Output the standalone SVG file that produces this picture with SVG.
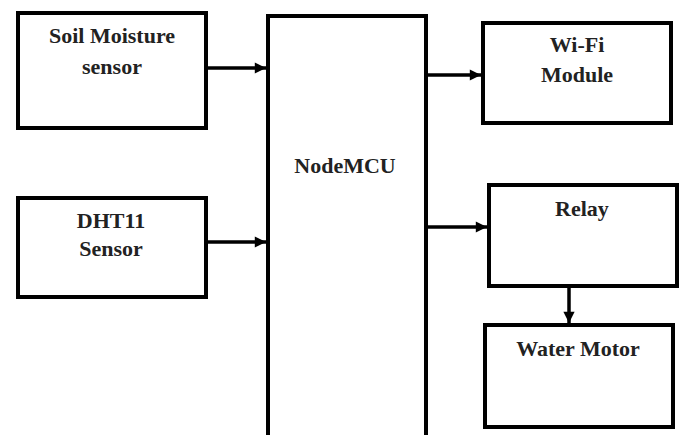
<svg xmlns="http://www.w3.org/2000/svg" width="685" height="435" viewBox="0 0 685 435">
<style>
.box{fill:#fff;stroke:#000;stroke-width:4}
.lbl{font-family:'Liberation Serif','DejaVu Serif',serif;font-weight:700;font-size:22px;fill:#222;text-anchor:middle}
.conn{stroke:#000;stroke-width:3.5;fill:none}
</style>
<defs>
<marker id="ah" viewBox="0 0 10 10" refX="10" refY="5" markerWidth="3.4" markerHeight="3.2" orient="auto" markerUnits="strokeWidth">
<path d="M0,0 L10,5 L0,10 z" fill="#000"/>
</marker>
</defs>
<rect width="685" height="435" fill="#fff"/>
<g id="soil">
<rect class="box" x="18" y="13" width="188" height="115"/>
<text class="lbl" x="112" y="43">Soil Moisture</text>
<text class="lbl" x="112" y="74">sensor</text>
</g>
<g id="dht11">
<rect class="box" x="18" y="198" width="188" height="99"/>
<text class="lbl" x="111" y="228">DHT11</text>
<text class="lbl" x="111" y="256">Sensor</text>
</g>
<g id="nodemcu">
<rect class="box" x="268" y="16" width="158" height="430"/>
<text class="lbl" x="345" y="173">NodeMCU</text>
</g>
<g id="wifi">
<rect class="box" x="483" y="23" width="188" height="100"/>
<text class="lbl" x="577" y="52">Wi-Fi</text>
<text class="lbl" x="577" y="82">Module</text>
</g>
<g id="relay">
<rect class="box" x="489" y="185" width="188" height="101"/>
<text class="lbl" x="582" y="216">Relay</text>
</g>
<g id="motor">
<rect class="box" x="485" y="325" width="188" height="102"/>
<text class="lbl" x="578" y="356">Water Motor</text>
</g>
<g id="connectors">
<line class="conn" x1="206" y1="68" x2="266" y2="68" marker-end="url(#ah)"/>
<line class="conn" x1="206" y1="242" x2="266" y2="242" marker-end="url(#ah)"/>
<line class="conn" x1="426" y1="75" x2="481" y2="75" marker-end="url(#ah)"/>
<line class="conn" x1="426" y1="227" x2="487" y2="227" marker-end="url(#ah)"/>
<line class="conn" x1="569" y1="286" x2="569" y2="323" marker-end="url(#ah)"/>
</g>
</svg>
